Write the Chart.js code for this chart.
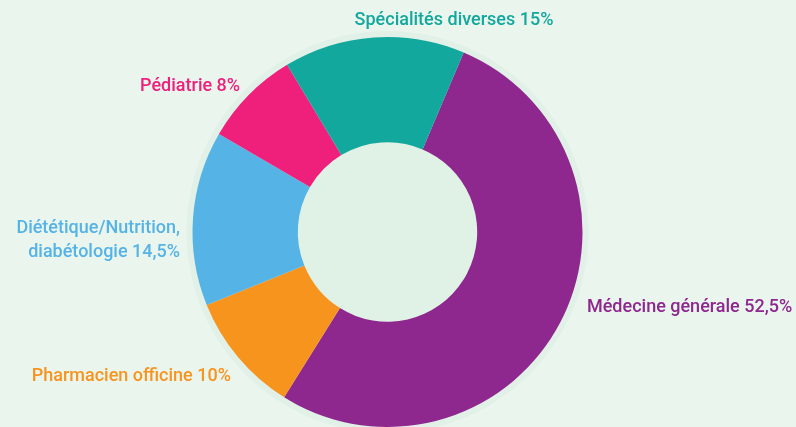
<!DOCTYPE html>
<html lang="fr">
<head>
<meta charset="utf-8">
<script src="https://cdn.jsdelivr.net/npm/chart.js@4"></script>
<style>
    html, body { margin: 0; padding: 0; background: #eaf5ee; }
    #wrap { width: 796px; height: 427px; position: relative; }
</style>
</head>
<body>
<div id="wrap"><canvas id="donutChart"></canvas></div>
<script>
// Répartition par spécialité (%)
const categories = ['Médecine générale', 'Pharmacien officine', 'Diététique/Nutrition, diabétologie', 'Pédiatrie', 'Spécialités diverses'];
const shares = [52.5, 10, 14.5, 8, 15];
const shareLabels = ['52,5%', '10%', '14,5%', '8%', '15%'];
const sliceColors = ['#8e278e', '#f7941e', '#56b3e5', '#ee207b', '#12a89d'];

// Label placement relative to the doughnut centre, in units of the outer radius
const labelPlacement = [
    { x: 1.023, y: 0.408, align: 'left', lines: ['Médecine générale 52,5%'] },
    { x: -0.803, y: 0.762, align: 'right', lines: ['Pharmacien officine 10%'] },
    { x: -1.064, y: 0.003, align: 'right', lines: ['Diététique/Nutrition,', 'diabétologie 14,5%'] },
    { x: -0.756, y: -0.721, align: 'right', lines: ['Pédiatrie 8%'] },
    { x: 0.341, y: -1.064, align: 'center', lines: ['Spécialités diverses 15%'] }
];

// Light halo behind the ring + tinted hole
const haloPlugin = {
    id: 'halo',
    beforeDatasetsDraw(chart) {
        const arc = chart.getDatasetMeta(0).data[0];
        if (!arc) return;
        const { x, y, outerRadius, innerRadius } = arc.getProps(['x', 'y', 'outerRadius', 'innerRadius'], true);
        const ctx = chart.ctx;
        ctx.save();
        ctx.fillStyle = '#e1f1e7';
        ctx.beginPath();
        ctx.arc(x, y, outerRadius + 6, 0, Math.PI * 2);
        ctx.fill();
        ctx.fillStyle = '#e0f1e6';
        ctx.beginPath();
        ctx.arc(x, y, innerRadius, 0, Math.PI * 2);
        ctx.fill();
        ctx.restore();
    }
};

// Outside labels, coloured like their slice
const outsideLabels = {
    id: 'outsideLabels',
    afterDatasetsDraw(chart) {
        const meta = chart.getDatasetMeta(0);
        const ctx = chart.ctx;
        ctx.save();
        ctx.font = '500 18px Roboto, sans-serif';
        ctx.textBaseline = 'alphabetic';
        meta.data.forEach((arc, i) => {
            const { x, y, outerRadius } = arc.getProps(['x', 'y', 'outerRadius'], true);
            const p = labelPlacement[i];
            ctx.fillStyle = sliceColors[i];
            ctx.textAlign = p.align;
            p.lines.forEach((line, j) => {
                ctx.fillText(line, x + p.x * outerRadius, y + p.y * outerRadius + j * 24);
            });
        });
        ctx.restore();
    }
};

new Chart(document.getElementById('donutChart'), {
    type: 'doughnut',
    data: {
        labels: categories,
        datasets: [{
            data: shares,
            backgroundColor: sliceColors,
            borderWidth: 0,
            hoverOffset: 0
        }]
    },
    options: {
        responsive: true,
        maintainAspectRatio: false,
        animation: false,
        cutout: '46%',
        rotation: 23,
        layout: {
            padding: { top: 37, bottom: 0, left: 0, right: 21 }
        },
        plugins: {
            legend: { display: false },
            tooltip: { enabled: false }
        }
    },
    plugins: [haloPlugin, outsideLabels]
});
</script>
</body>
</html>
